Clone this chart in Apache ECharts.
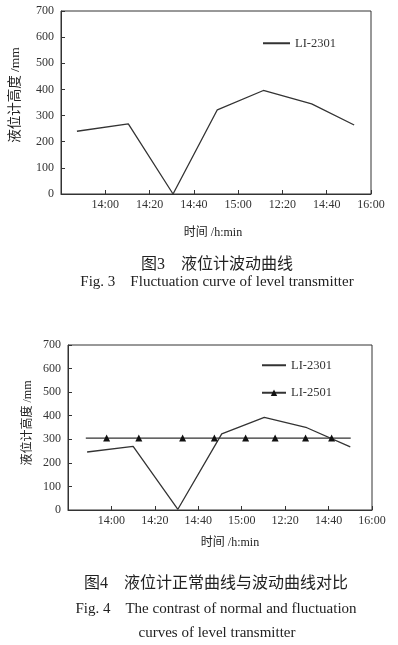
<!DOCTYPE html>
<html>
<head>
<meta charset="utf-8">
<script src="https://cdn.jsdelivr.net/npm/echarts@6/dist/echarts.min.js"></script>
<style>
  html, body { margin: 0; padding: 0; background: #fff; }
  #chart { width: 398px; height: 645px; }
</style>
</head>
<body>
<div id="chart"></div>
<script>
// tick labels of the time axis (first tick has no label)
const xTickLabels = ['', '14:00', '14:20', '14:40', '15:00', '12:20', '14:40', '16:00'];

// Fig. 3 : LI-2301
const fig3X = [0.36, 1.52, 2.53, 3.53, 4.57, 5.66, 6.62];
const fig3Y = [240, 268, 0, 322, 396, 345, 264];

// Fig. 4 : LI-2301
const fig4X = [0.44, 1.50, 2.53, 3.54, 4.52, 5.50, 6.50];
const fig4Y = [246, 270, 3, 323, 393, 349, 268];

// Fig. 4 : LI-2501 (end points carry no marker)
const refX = [0.41, 0.89, 1.63, 2.64, 3.37, 4.09, 4.77, 5.47, 6.07, 6.51];
const refY = [305, 305, 305, 305, 305, 305, 305, 305, 305, 305];
const refMark = [false, true, true, true, true, true, true, true, true, false];

const serif = '"Liberation Serif", "DejaVu Serif", "Noto Sans CJK SC", serif';
const ink = '#333';

const chart = echarts.init(document.getElementById('chart'));

function makeX(gridIndex) {
  return {
    type: 'value', gridIndex, min: 0, max: 7, interval: 1,
    axisLine: { lineStyle: { color: ink, width: 1 } },
    axisTick: { inside: true, length: 4, lineStyle: { color: ink } },
    splitLine: { show: false },
    axisLabel: {
      color: ink, fontFamily: serif, fontSize: 12, margin: 5,
      formatter: v => xTickLabels[v] || ''
    }
  };
}

function makeY(gridIndex) {
  return {
    type: 'value', gridIndex, min: 0, max: 700, interval: 100,
    axisLine: { show: true, lineStyle: { color: ink, width: 1 } },
    axisTick: { inside: true, length: 4, lineStyle: { color: ink } },
    splitLine: { show: false },
    axisLabel: { color: ink, fontFamily: serif, fontSize: 12, margin: 7 }
  };
}

// plain text helper for captions and axis names
function label(text, x, y, size, rotation) {
  return {
    type: 'text', x, y, rotation: rotation || 0,
    style: { text, fill: '#222', font: size + 'px ' + serif, textAlign: 'center', textVerticalAlign: 'middle' }
  };
}

const legendText = { color: ink, fontFamily: serif, fontSize: 12.5 };

const option = {
  animation: false,
  backgroundColor: '#fff',
  grid: [
    { left: 61, top: 11, width: 310, height: 183, show: true, borderColor: ink, borderWidth: 1, outerBoundsMode: 'none' },
    { left: 68, top: 345, width: 304, height: 165, show: true, borderColor: ink, borderWidth: 1, outerBoundsMode: 'none' }
  ],
  xAxis: [makeX(0), makeX(1)],
  yAxis: [makeY(0), makeY(1)],
  legend: [
    {
      left: 257, top: 32, orient: 'vertical', itemWidth: 27, itemHeight: 12,
      textStyle: legendText,
      data: [{ name: 'LI-2301', itemStyle: { opacity: 0 } }]
    },
    {
      left: 256, top: 354, orient: 'vertical', itemWidth: 24, itemHeight: 8, itemGap: 15,
      textStyle: legendText,
      data: [{ name: 'LI-2301 ', itemStyle: { opacity: 0 } }, 'LI-2501']
    }
  ],
  series: [
    {
      name: 'LI-2301', type: 'line', xAxisIndex: 0, yAxisIndex: 0,
      symbol: 'none', lineStyle: { color: ink, width: 1.3 }, itemStyle: { color: ink },
      data: fig3X.map((x, i) => [x, fig3Y[i]])
    },
    {
      name: 'LI-2301 ', type: 'line', xAxisIndex: 1, yAxisIndex: 1,
      symbol: 'none', lineStyle: { color: ink, width: 1.3 }, itemStyle: { color: ink },
      data: fig4X.map((x, i) => [x, fig4Y[i]])
    },
    {
      name: 'LI-2501', type: 'line', xAxisIndex: 1, yAxisIndex: 1,
      symbol: 'triangle', symbolSize: 7, showAllSymbol: true,
      lineStyle: { color: ink, width: 1.3 }, itemStyle: { color: '#111' },
      data: refX.map((x, i) => ({ value: [x, refY[i]], symbol: refMark[i] ? 'triangle' : 'none' }))
    }
  ],
  graphic: [
    label('液位计高度 /mm', 15, 95, 13.5, Math.PI / 2),
    label('时间 /h:min', 213, 233, 12),
    label('图3　液位计波动曲线', 217, 265, 16),
    label('Fig. 3　Fluctuation curve of level transmitter', 217, 282, 15),
    label('液位计高度 /mm', 28, 423, 12, Math.PI / 2),
    label('时间 /h:min', 230, 543, 12),
    label('图4　液位计正常曲线与波动曲线对比', 216, 584, 16),
    label('Fig. 4　The contrast of normal and fluctuation', 216, 609, 15),
    label('curves of level transmitter', 217, 633, 15)
  ]
};

chart.setOption(option);
window.addEventListener('resize', () => chart.resize());
</script>
</body>
</html>
